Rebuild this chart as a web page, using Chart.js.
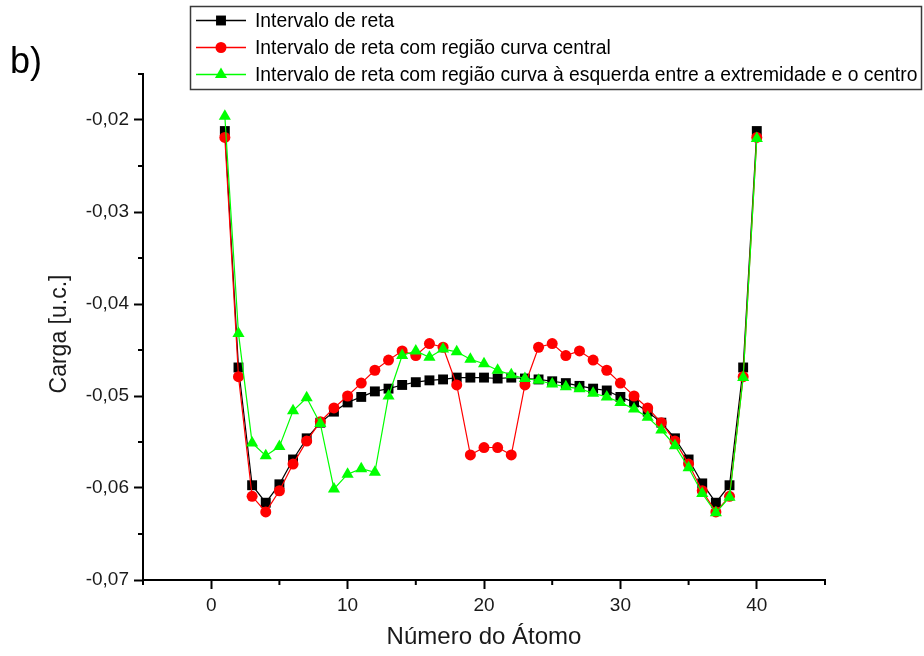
<!DOCTYPE html>
<html>
<head>
<meta charset="utf-8">
<script src="https://cdn.jsdelivr.net/npm/chart.js@4.4.1/dist/chart.umd.min.js"></script>
<style>
  html, body { margin: 0; padding: 0; background: #fff; }
  #wrap { position: relative; width: 924px; height: 656px; }
</style>
</head>
<body>
<div id="wrap"><canvas id="c"></canvas></div>
<script>
const atoms = [1,2,3,4,5,6,7,8,9,10,11,12,13,14,15,16,17,18,19,20,21,22,23,24,25,26,27,28,29,30,31,32,33,34,35,36,37,38,39,40];

const seriesNames = [
  'Intervalo de reta',
  'Intervalo de reta com região curva central',
  'Intervalo de reta com região curva à esquerda entre a extremidade e o centro'
];

const retaValues = [
  -0.0212, -0.0469, -0.0597, -0.0616, -0.0596, -0.0569, -0.0546, -0.0529, -0.0517, -0.0507,
  -0.0501, -0.0495, -0.0492, -0.0488, -0.0485, -0.0483, -0.0482, -0.0480, -0.0480, -0.0480,
  -0.0481, -0.0480, -0.0481, -0.0482, -0.0484, -0.0486, -0.0489, -0.0492, -0.0494, -0.0501,
  -0.0507, -0.0517, -0.0529, -0.0546, -0.0569, -0.0595, -0.0616, -0.0597, -0.0469, -0.0212
];

const centralValues = [
  -0.0219, -0.0479, -0.0609, -0.0626, -0.0603, -0.0574, -0.0549, -0.0528, -0.0513, -0.0500,
  -0.0486, -0.0472, -0.0461, -0.0451, -0.0456, -0.0443, -0.0447, -0.0488, -0.0564, -0.0556,
  -0.0556, -0.0564, -0.0488, -0.0447, -0.0443, -0.0456, -0.0451, -0.0461, -0.0472, -0.0486,
  -0.0500, -0.0513, -0.0529, -0.0549, -0.0574, -0.0603, -0.0626, -0.0609, -0.0479, -0.0219
];

const esquerdaValues = [
  -0.0196, -0.0432, -0.0551, -0.0565, -0.0555, -0.0516, -0.0502, -0.0530, -0.0601, -0.0585,
  -0.0579, -0.0583, -0.0500, -0.0456, -0.0451, -0.0458, -0.0449, -0.0452, -0.0460, -0.0465,
  -0.0472, -0.0477, -0.0481, -0.0483, -0.0487, -0.0490, -0.0492, -0.0497, -0.0501, -0.0507,
  -0.0514, -0.0523, -0.0537, -0.0554, -0.0578, -0.0606, -0.0627, -0.0610, -0.0480, -0.0220
];

const xTickLabels = [0, 10, 20, 30, 40];
const yTickLabels = [-0.07, -0.06, -0.05, -0.04, -0.03, -0.02];

const xTitle = 'Número do Átomo';
const yTitle = 'Carga [u.c.]';
const panelLabel = 'b)';

const FONT = '"Liberation Sans", Arial, sans-serif';

function pts(vals) { return atoms.map((a, i) => ({ x: a, y: vals[i] })); }

function isMajorX(v) { return xTickLabels.some(t => Math.abs(t - v) < 1e-6); }
function isMajorY(v) { return yTickLabels.some(t => Math.abs(t - v) < 1e-7); }

function drawMarker(ctx, style, x, y, r, color) {
  ctx.save();
  ctx.fillStyle = color;
  ctx.beginPath();
  if (style === 'rect') {
    const s = Math.SQRT1_2 * r;
    ctx.rect(x - s, y - s, 2 * s, 2 * s);
  } else if (style === 'circle') {
    ctx.arc(x, y, r, 0, Math.PI * 2);
  } else if (style === 'triangle') {
    ctx.moveTo(x, y - r);
    ctx.lineTo(x + r * Math.sin(Math.PI / 3), y + r * 0.5);
    ctx.lineTo(x - r * Math.sin(Math.PI / 3), y + r * 0.5);
    ctx.closePath();
  }
  ctx.fill();
  ctx.restore();
}

const decorPlugin = {
  id: 'decor',
  afterDraw(chart) {
    const ctx = chart.ctx;
    const xs = chart.scales.x, ys = chart.scales.y;
    ctx.save();
    // minor ticks
    ctx.strokeStyle = '#000';
    ctx.lineWidth = 2;
    xs.ticks.forEach(t => {
      if (!isMajorX(t.value)) {
        const px = xs.getPixelForValue(t.value);
        ctx.beginPath(); ctx.moveTo(px, xs.top); ctx.lineTo(px, xs.top + 5); ctx.stroke();
      }
    });
    ys.ticks.forEach(t => {
      if (!isMajorY(t.value)) {
        const py = ys.getPixelForValue(t.value);
        ctx.beginPath(); ctx.moveTo(ys.right, py); ctx.lineTo(ys.right - 5, py); ctx.stroke();
      }
    });
    // y axis title
    ctx.save();
    ctx.translate(60, 334);
    ctx.rotate(-Math.PI / 2);
    ctx.fillStyle = '#1a1a1a';
    ctx.font = '23px ' + FONT;
    ctx.textAlign = 'center';
    ctx.textBaseline = 'middle';
    ctx.fillText(yTitle, 0, 0);
    ctx.restore();
    // panel label
    ctx.fillStyle = '#000';
    ctx.font = '36px ' + FONT;
    ctx.textBaseline = 'alphabetic';
    ctx.textAlign = 'left';
    ctx.fillText(panelLabel, 10, 73);
    // legend box
    ctx.strokeStyle = '#3a3a3a';
    ctx.lineWidth = 1.5;
    ctx.strokeRect(190.5, 6.5, 731, 83);
    chart.data.datasets.forEach((ds, i) => {
      const y = 20.5 + 27 * i;
      ctx.strokeStyle = ds.borderColor;
      ctx.lineWidth = 1.5;
      ctx.beginPath(); ctx.moveTo(196, y); ctx.lineTo(246, y); ctx.stroke();
      drawMarker(ctx, ds.pointStyle, 221, y, ds.pointRadius, ds.pointBackgroundColor);
      ctx.fillStyle = '#000';
      ctx.font = '19.3px ' + FONT;
      ctx.textBaseline = 'middle';
      ctx.fillText(ds.label, 255, y + 1);
    });
    ctx.restore();
  }
};

const styles = [
  { color: '#000000', point: 'rect', radius: 7, order: 3 },
  { color: '#ff0000', point: 'circle', radius: 5.5, order: 2 },
  { color: '#00ff00', point: 'triangle', radius: 7, order: 1 }
];
const seriesValues = [retaValues, centralValues, esquerdaValues];

const datasets = seriesValues.map((vals, i) => ({
  label: seriesNames[i],
  data: pts(vals),
  borderColor: styles[i].color,
  backgroundColor: styles[i].color,
  pointBackgroundColor: styles[i].color,
  pointBorderColor: styles[i].color,
  pointBorderWidth: 0,
  pointStyle: styles[i].point,
  pointRadius: styles[i].radius,
  borderWidth: 1.2,
  showLine: true,
  tension: 0,
  order: styles[i].order
}));

new Chart(document.getElementById('c'), {
  type: 'line',
  data: { datasets },
  options: {
    responsive: true,
    maintainAspectRatio: false,
    animation: false,
    events: [],
    layout: { padding: { left: 0, top: 74, right: 99, bottom: 0 } },
    plugins: { legend: { display: false }, tooltip: { enabled: false } },
    scales: {
      x: {
        type: 'linear',
        min: -5, max: 45,
        afterFit: s => { s.height = 76; },
        border: { display: true, color: '#000', width: 2 },
        grid: {
          drawOnChartArea: false, drawTicks: true, tickLength: 9, tickWidth: 2,
          tickColor: c => (c.tick && isMajorX(c.tick.value)) ? '#000' : 'rgba(0,0,0,0)'
        },
        ticks: {
          stepSize: 5, padding: 5, color: '#1a1a1a', maxRotation: 0, autoSkip: false,
          font: { family: FONT, size: 19 },
          callback: v => isMajorX(v) ? String(Math.round(v)) : ''
        },
        title: {
          display: true, text: xTitle, color: '#1a1a1a',
          font: { family: FONT, size: 24 }, padding: { top: 0, bottom: 4 }
        }
      },
      y: {
        type: 'linear',
        min: -0.07, max: -0.015,
        afterFit: s => { s.width = 143; },
        border: { display: true, color: '#000', width: 2 },
        grid: {
          drawOnChartArea: false, drawTicks: true, tickLength: 9, tickWidth: 2,
          tickColor: c => (c.tick && isMajorY(c.tick.value)) ? '#000' : 'rgba(0,0,0,0)'
        },
        ticks: {
          stepSize: 0.005, padding: 5, color: '#1a1a1a', autoSkip: false,
          font: { family: FONT, size: 19 },
          callback: v => isMajorY(v) ? v.toFixed(2).replace('.', ',') : ''
        },
        title: { display: false }
      }
    }
  },
  plugins: [decorPlugin]
});
</script>
</body>
</html>
